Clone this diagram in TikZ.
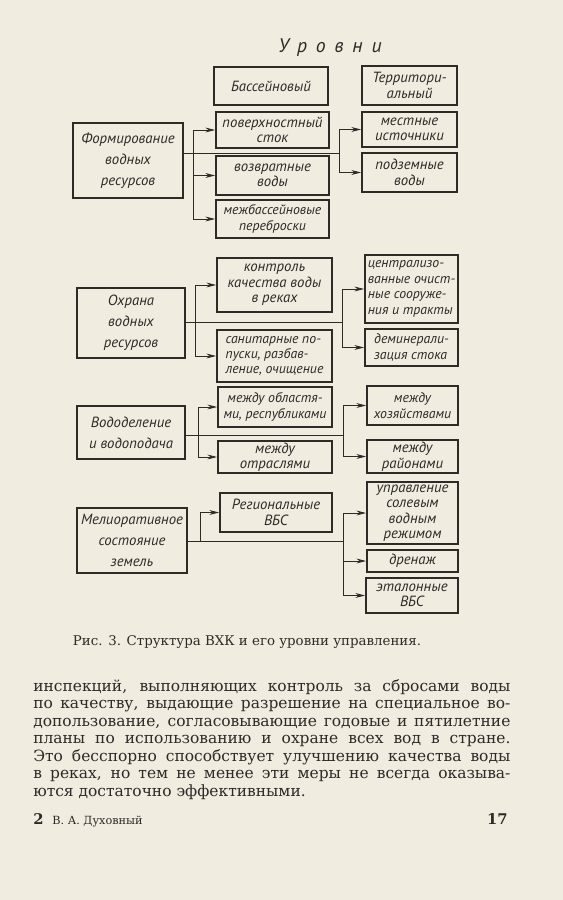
\documentclass[tikz,border=0pt]{standalone}
\usepackage{fontspec}
\setmainfont{DejaVu Serif}
\newfontfamily\schemefont{PT Sans}
\usepackage{tikz}
\usetikzlibrary{arrows.meta}
\definecolor{paper}{RGB}{240,236,224}
\definecolor{ink}{RGB}{45,42,40}

\begin{document}
\begin{tikzpicture}[x=0.025cm,y=-0.025cm,>={Stealth[length=2.4mm,width=1.2mm]},
  every node/.style={text=ink}]
  \tikzset{blk/.style={draw=ink,line width=1.4pt,inner sep=1pt,align=center,
             font=\schemefont\itshape\fontsize{10.5}{11}\selectfont},
           src/.style={blk,font=\schemefont\itshape\fontsize{10.5}{15}\selectfont},
           tight/.style={font=\schemefont\itshape\fontsize{9.8}{11}\selectfont},
           sz/.style 2 args={minimum width=#1*0.025cm,minimum height=#2*0.025cm},
           lnk/.style={draw=ink,line width=0.6pt},
           txt/.style={inner sep=0pt,font=\fontsize{11}{12.45}\selectfont}}
  \fill[paper] (0,0) rectangle (563,900);
  \useasboundingbox (0,0) rectangle (563,900);

  % levels
  \node[font=\schemefont\itshape\fontsize{14}{14}\selectfont\addfontfeature{LetterSpace=45}]
    (lvl) at (330,48) {Уровни};
  \node[blk,sz={114}{38}] (bass) at (271,86) {Бассейновый};
  \node[blk,sz={95}{39}] (terr) at (409.5,85.5) {Территори-\\альный};

  % formation
  \node[src,sz={110}{75}] (form) at (128,160.5) {Формирование\\водных\\ресурсов};
  \node[blk,sz={113}{36}] (pov) at (272.5,130) {поверхностный\\сток};
  \node[blk,sz={113}{39}] (vozv) at (272.5,175.5) {возвратные\\воды};
  \node[blk,tight,sz={113}{38}] (mezh) at (272.5,219) {межбассейновые\\переброски};
  \node[blk,sz={95}{35}] (mest) at (409.5,129.5) {местные\\источники};
  \node[blk,sz={95}{39}] (podz) at (409.5,172.5) {подземные\\воды};

  % protection
  \node[src,sz={108}{70}] (ohr) at (131,323) {Охрана\\водных\\ресурсов};
  \node[blk,sz={115}{54}] (kontr) at (274.5,285) {контроль\\качества воды\\в реках};
  \node[blk,tight,sz={115}{52},align=left] (sanit) at (274.5,356) {санитарные по-\\пуски, разбав-\\ление, очищение};
  \node[blk,tight,sz={93}{68},align=left] (centr) at (411.5,289) {централизо-\\ванные очист-\\ные сооруже-\\ния и тракты};
  \node[blk,tight,sz={93}{37},align=left] (demin) at (411.5,347.5) {деминерали-\\зация стока};

  % distribution
  \node[src,sz={108}{53}] (vodod) at (131,432.5) {Вододеление\\и водоподача};
  \node[blk,tight,sz={114}{40}] (obl) at (275,407) {между областя-\\ми, республиками};
  \node[blk,sz={114}{32}] (otr) at (275,457) {между\\отраслями};
  \node[blk,tight,sz={91}{39}] (hoz) at (412.5,405.5) {между\\хозяйствами};
  \node[blk,sz={91}{33}] (rai) at (412.5,456.5) {между\\районами};

  % land
  \node[src,sz={110}{65}] (melio) at (132,540.5) {Мелиоративное\\состояние\\земель};
  \node[blk,sz={112}{39}] (reg) at (276,512.5) {Региональные\\ВБС};
  \node[blk,sz={91}{62}] (upr) at (412.5,513) {управление\\солевым\\водным\\режимом};
  \node[blk,sz={91}{22}] (dren) at (412.5,561) {дренаж};
  \node[blk,sz={92}{35}] (etal) at (412,595.5) {эталонные\\ВБС};

  % branch points
  \coordinate (b1) at (193,153); \coordinate (g1) at (339,153);
  \coordinate (b2) at (195,322); \coordinate (g2) at (342,322);
  \coordinate (b3) at (198,435); \coordinate (g3) at (343,435);
  \coordinate (b4) at (200,541); \coordinate (g4) at (343,541);

  \draw[lnk] (form.east |- b1) -- (g1);
  \draw[lnk,->] (b1) |- (pov.west);
  \draw[lnk,->] (b1) |- (vozv.west);
  \draw[lnk,->] (b1) |- (mezh.west);
  \draw[lnk,->] (g1) |- (mest.west);
  \draw[lnk,->] (g1) |- (podz.west);

  \draw[lnk] (ohr.east |- b2) -- (g2);
  \draw[lnk,->] (b2) |- (kontr.west);
  \draw[lnk,->] (b2) |- (sanit.west);
  \draw[lnk,->] (g2) |- (centr.west);
  \draw[lnk,->] (g2) |- (demin.west);

  \draw[lnk] (vodod.east |- b3) -- (g3);
  \draw[lnk,->] (b3) |- (obl.west);
  \draw[lnk,->] (b3) |- (otr.west);
  \draw[lnk,->] (g3) |- (hoz.west);
  \draw[lnk,->] (g3) |- (rai.west);

  \draw[lnk] (melio.east |- b4) -- (g4);
  \draw[lnk,->] (b4) |- (reg.west);
  \draw[lnk,->] (g4) |- (upr.west);
  \draw[lnk,->] (g4) |- (dren.west);
  \draw[lnk,->] (g4) |- (etal.west);

  % caption and page text
  \node[inner sep=0pt,font=\fontsize{9.5}{11}\selectfont] (cap) at (247,642)
    {Рис. 3. Структура ВХК и его уровни управления.};
  \node[txt,anchor=north west,text width=11.925cm,align=justify] (para) at (33,679)
    {\noindent\hyphenpenalty=10000\tolerance=10000
     инспекций, выполняющих контроль за сбросами воды\linebreak
     по качеству, выдающие разрешение на специальное во-\linebreak
     допользование, согласовывающие годовые и пятилетние\linebreak
     планы по использованию и охране всех вод в стране.\linebreak
     Это бесспорно способствует улучшению качества воды\linebreak
     в реках, но тем не менее эти меры не всегда оказыва-\linebreak
     ются достаточно эффективными.};
  \node[inner sep=0pt,anchor=base west] (sig) at (33,824)
    {\fontsize{10.5}{12}\selectfont\textbf{2}\hspace{2.2mm}\fontsize{8}{10}\selectfont В. А. Духовный};
  \node[inner sep=0pt,anchor=base east,font=\fontsize{10.5}{12}\selectfont\bfseries] (pg) at (508,824) {17};
\end{tikzpicture}
\end{document}
